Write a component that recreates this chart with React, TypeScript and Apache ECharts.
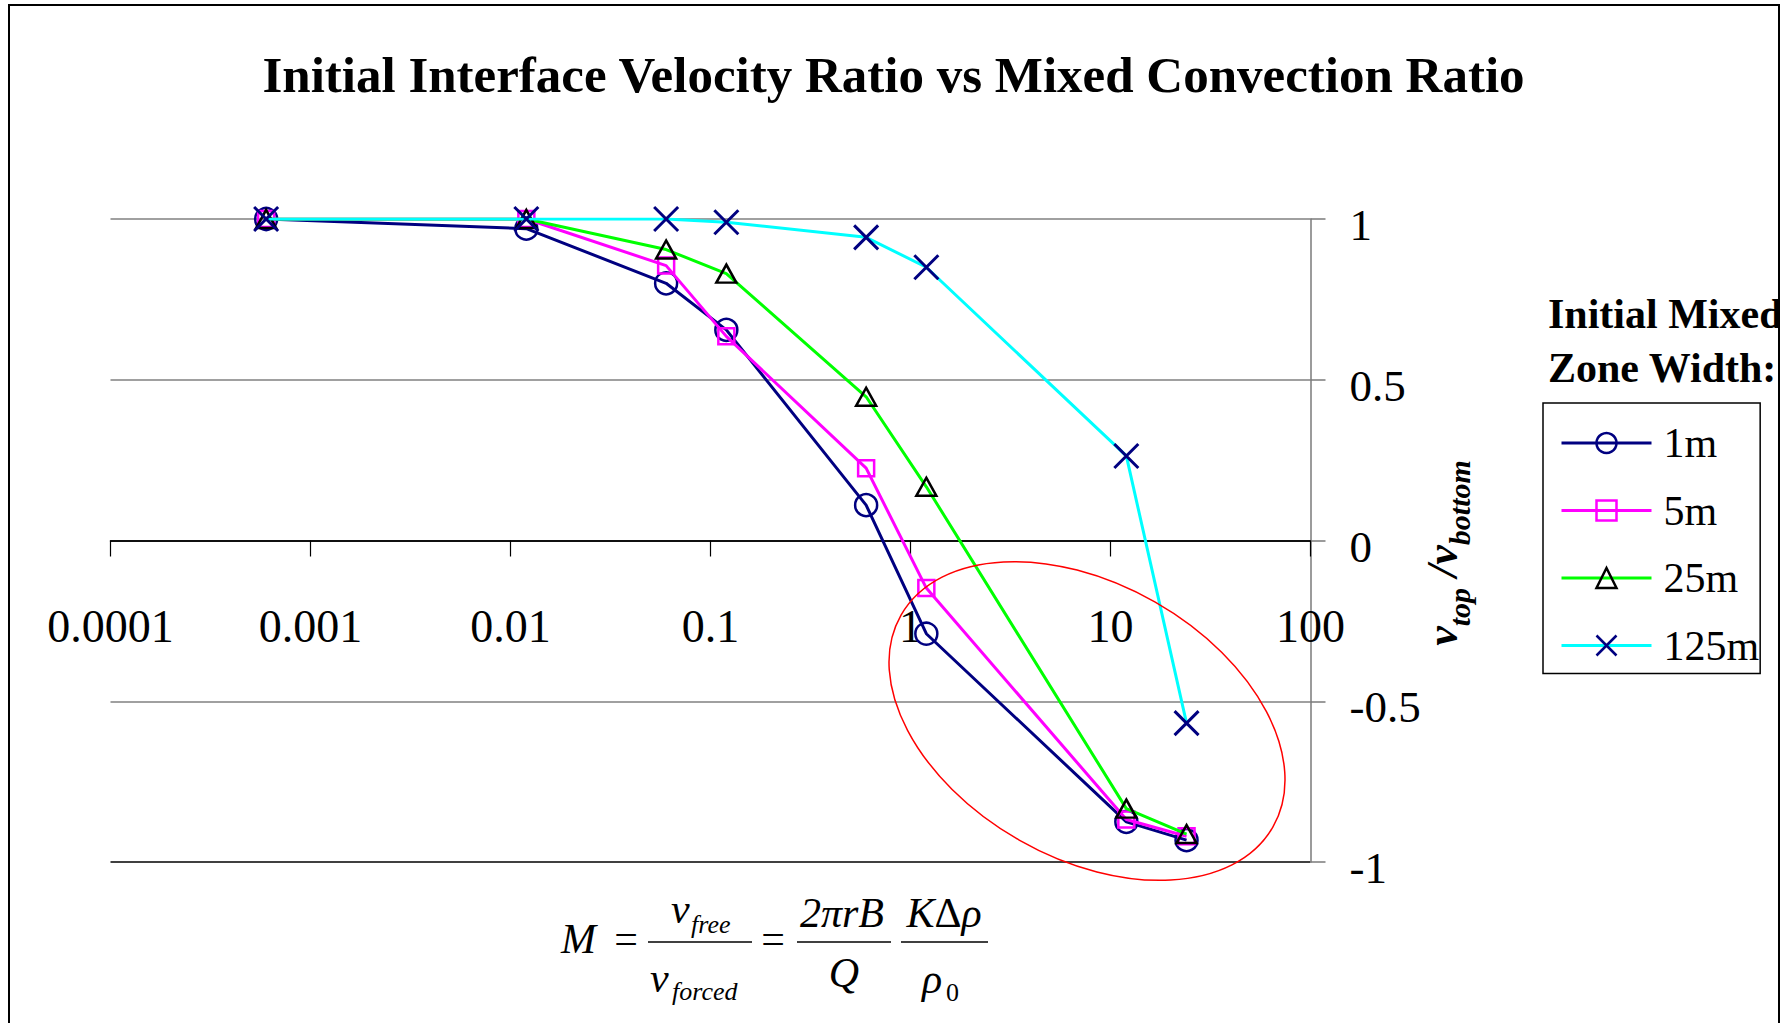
import React, { useEffect, useRef } from 'react';
import * as echarts from 'echarts';

const SERIF = "'Liberation Serif', 'Times New Roman', serif";

const TITLE = 'Initial Interface Velocity Ratio vs Mixed Convection Ratio';
const LEGEND_TITLE = ['Initial Mixed', 'Zone Width:'];
const Y_TITLE = '{v|v}{s|top}{v| /}{v|v}{s|bottom}';
const X_VALUES = [0.0006, 0.012, 0.06, 0.12, 0.6, 1.2, 12, 24];
const SERIES_NAMES = ['1m', '5m', '25m', '125m'];
const V_1M = [1.0, 0.97, 0.8, 0.655, 0.11, -0.29, -0.875, -0.932];
const V_5M = [1.0, 1.0, 0.855, 0.635, 0.225, -0.148, -0.868, -0.92];
const V_25M = [1.0, 1.0, 0.905, 0.83, 0.447, 0.167, -0.834, -0.913];
const V_125M = [1.0, 1.0, 1.0, 0.99, 0.943, 0.85, 0.263, -0.568];
const X_TICK_LABELS = ['0.0001', '0.001', '0.01', '0.1', '1', '10', '100'];
const Y_TICK_LABELS = ['-1', '-0.5', '0', '0.5', '1'];

const SERIES_VALUES = [V_1M, V_5M, V_25M, V_125M];
const LINE_COLORS = ['#000080', '#FF00FF', '#00FF00', '#00FFFF'];
const MARKER_COLORS = ['#000080', '#FF00FF', '#000000', '#000080'];
const SYMBOLS = ['circle', 'rect', 'triangle', 'path://M0,0L10,10M10,0L0,10'];
const SYMBOL_SIZES: any[] = [22, 16, [20, 18], 24];

function ftext(text: string, x: number, baseline: number, size: number, extra: any = {}) {
  return {
    type: 'text',
    x,
    y: baseline - 0.3375 * size,
    silent: true,
    z: 20,
    style: {
      text,
      fontSize: size,
      fontFamily: SERIF,
      fontStyle: 'italic',
      fill: '#000',
      align: 'left',
      verticalAlign: 'middle',
      ...extra,
    },
  };
}

function fbar(x1: number, x2: number, y: number) {
  return {
    type: 'line',
    silent: true,
    z: 20,
    shape: { x1, y1: y, x2, y2: y },
    style: { stroke: '#000', lineWidth: 1.6 },
  };
}

export default function App() {
  const ref = useRef<HTMLDivElement>(null);

  useEffect(() => {
    if (!ref.current) return;
    const chart = echarts.init(ref.current, null, { renderer: 'svg' });

    const series = SERIES_NAMES.map((name, si) => ({
      name,
      type: 'line',
      data: X_VALUES.map((x, i) => [x, SERIES_VALUES[si][i]]),
      symbol: SYMBOLS[si],
      symbolSize: SYMBOL_SIZES[si],
      showAllSymbol: true,
      lineStyle: { color: LINE_COLORS[si], width: 3 },
      itemStyle: {
        color: 'rgba(255,255,255,0)',
        borderColor: MARKER_COLORS[si],
        borderWidth: si === 3 ? 3 : 2.5,
      },
      emphasis: { disabled: true },
      z: 3 + si,
    }));

    const M = 42;
    const S = 26;
    const GRID_TOP = 219;
    const GRID_H = 643;

    const option: any = {
      animation: false,
      title: {
        text: TITLE,
        left: 'center',
        top: 44,
        textStyle: { fontSize: 51, fontWeight: 'bold', fontFamily: SERIF, color: '#000' },
      },
      grid: { left: 110.5, top: GRID_TOP, width: 1200, height: GRID_H, containLabel: false, outerBoundsMode: 'none' },
      xAxis: {
        type: 'log',
        logBase: 10,
        min: 0.0001,
        max: 100,
        offset: -GRID_H / 2,
        axisLine: { show: true, onZero: false, lineStyle: { color: '#000', width: 1.5 } },
        axisTick: { show: true, length: 16, lineStyle: { color: '#000', width: 1.2 } },
        minorTick: { show: false },
        splitLine: { show: false },
        axisLabel: {
          margin: 63,
          fontSize: 46,
          fontFamily: SERIF,
          color: '#000',
          showMinLabel: true,
          showMaxLabel: true,
          formatter: (v: number) => {
            const e = Math.round(Math.log10(v));
            return X_TICK_LABELS[e + 4] ?? String(v);
          },
        },
      },
      yAxis: {
        type: 'value',
        position: 'right',
        min: -1,
        max: 1,
        interval: 0.5,
        axisLine: { show: true, onZero: false, lineStyle: { color: '#7a7a7a', width: 1.5 } },
        axisTick: { show: true, length: 15, lineStyle: { color: '#7a7a7a', width: 1.5 } },
        splitLine: {
          show: true,
          lineStyle: { color: ['#000000', '#808080', '#000000', '#808080', '#808080'], width: 1.6 },
        },
        axisLabel: {
          margin: 39,
          showMinLabel: true,
          showMaxLabel: true,
          formatter: (v: number) => '{a|' + (Y_TICK_LABELS[Math.round((v + 1) / 0.5)] ?? String(v)) + '}',
          rich: {
            a: { fontSize: 45, fontFamily: SERIF, color: '#000', padding: [12, 0, 0, 0] },
          },
        },
      },
      legend: {
        orient: 'vertical',
        left: 1543,
        top: 403,
        itemWidth: 90,
        itemHeight: 25,
        itemGap: 25.5,
        padding: [19, 1, 7, 17],
        borderColor: '#000',
        borderWidth: 1.5,
        selectedMode: false,
        data: SERIES_NAMES,
        lineStyle: { width: 3 },
        itemStyle: { borderWidth: 2.5 },
        textStyle: { fontSize: 42, fontFamily: SERIF, color: '#000', padding: [0, 0, 0, 7] },
      },
      series,
      graphic: [
        {
          type: 'rect',
          silent: true,
          z: 0,
          shape: { x: 9, y: 5, width: 1770, height: 1100 },
          style: { fill: 'none', stroke: '#000', lineWidth: 2 },
        },
        {
          type: 'text',
          silent: true,
          x: 1548,
          y: 314,
          z: 20,
          style: {
            text: LEGEND_TITLE[0],
            fontSize: 42,
            fontWeight: 'bold',
            fontFamily: SERIF,
            fill: '#000',
            align: 'left',
            verticalAlign: 'middle',
          },
        },
        {
          type: 'text',
          silent: true,
          x: 1548,
          y: 368,
          z: 20,
          style: {
            text: LEGEND_TITLE[1],
            fontSize: 42,
            fontWeight: 'bold',
            fontFamily: SERIF,
            fill: '#000',
            align: 'left',
            verticalAlign: 'middle',
          },
        },
        {
          type: 'text',
          silent: true,
          x: 1447,
          y: 553,
          rotation: Math.PI / 2,
          z: 20,
          style: {
            text: Y_TITLE,
            align: 'center',
            verticalAlign: 'middle',
            fill: '#000',
            rich: {
              v: {
                fontSize: 44,
                fontStyle: 'italic',
                fontWeight: 'bold',
                fontFamily: SERIF,
                fill: '#000',
                verticalAlign: 'bottom',
                padding: [0, 0, 10, 0],
              },
              s: {
                fontSize: 30,
                fontStyle: 'italic',
                fontWeight: 'bold',
                fontFamily: SERIF,
                fill: '#000',
                verticalAlign: 'bottom',
              },
            },
          },
        },
        {
          type: 'ellipse',
          silent: true,
          x: 1087,
          y: 721,
          rotation: -0.5175,
          z: 15,
          shape: { cx: 0, cy: 0, rx: 214, ry: 137 },
          style: { fill: 'none', stroke: '#FF0000', lineWidth: 1.5 },
        },
        // formula
        ftext('M', 561, 953, M),
        ftext('=', 626, 953, M, { fontStyle: 'normal', align: 'center' }),
        fbar(648, 752, 942),
        ftext('v', 671, 923, M),
        ftext('free', 691, 933, S),
        ftext('v', 650, 992, M),
        ftext('forced', 672, 1000, S),
        ftext('=', 773, 953, M, { fontStyle: 'normal', align: 'center' }),
        fbar(797, 891, 942),
        ftext('2πrB', 842, 927, M, { align: 'center' }),
        ftext('Q', 844, 987, M, { align: 'center' }),
        fbar(901, 988, 942),
        ftext('{i|K}{n|Δ}{i|ρ}', 944, 927, M, {
          align: 'center',
          rich: {
            i: { fontSize: M, fontStyle: 'italic', fontFamily: SERIF, fill: '#000' },
            n: { fontSize: M, fontStyle: 'normal', fontFamily: SERIF, fill: '#000' },
          },
        }),
        ftext('ρ', 922, 993, M),
        ftext('0', 946, 1001, S, { fontStyle: 'normal' }),
        {
          type: 'rect',
          silent: true,
          z: 100,
          shape: { x: 1780, y: 0, width: 10, height: 1023 },
          style: { fill: '#fff' },
        },
      ],
    };

    chart.setOption(option);
    return () => chart.dispose();
  }, []);

  return (
    <div
      ref={ref}
      style={{ position: 'absolute', left: 0, top: 0, width: 1787, height: 1023, overflow: 'hidden', background: '#fff' }}
    />
  );
}
